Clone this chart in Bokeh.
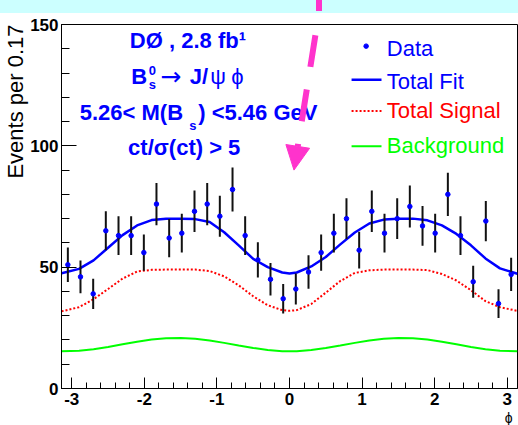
import numpy as np
from bokeh.plotting import figure
from bokeh.layouts import column
from bokeh.models import Range1d, Label, Arrow, NormalHead, FixedTicker, Title, Div
from bokeh.embed import file_html
from bokeh.resources import INLINE

# ---------------- data ----------------
phi_bins = [-3.054, -2.880, -2.705, -2.531, -2.356, -2.182, -2.007, -1.833, -1.658,
            -1.484, -1.309, -1.134, -0.960, -0.785, -0.611, -0.436, -0.262, -0.087,
            0.087, 0.262, 0.436, 0.611, 0.785, 0.960, 1.134, 1.309, 1.484, 1.658,
            1.833, 2.007, 2.182, 2.356, 2.531, 2.705, 2.880, 3.054]
events = [51, 46, 39, 65, 63, 63, 56, 76, 62, 64, 73, 76, 71, 82, 63, 53, 45, 37,
          41, 48, 56, 64, 70, 57, 73, 64, 70, 75, 67, 64, 80, 63, 44, 69, 35, 47]

curve_phi = [-3.14, -2.9, -2.7, -2.5, -2.3, -2.1, -1.9, -1.7, -1.5, -1.3, -1.1, -0.9,
             -0.7, -0.5, -0.3, -0.1, 0.0, 0.1, 0.3, 0.5, 0.7, 0.9, 1.1, 1.3, 1.5,
             1.7, 1.9, 2.1, 2.3, 2.5, 2.7, 2.9, 3.14]
fit_vals = [47.5, 49.3, 52.8, 58.0, 63.2, 67.2, 69.4, 70.0, 70.0, 69.8, 68.6, 64.4,
            59.0, 53.4, 50.0, 47.8, 47.4, 47.8, 50.3, 54.2, 59.4, 64.3, 68.0, 69.6,
            70.0, 70.0, 69.3, 67.2, 63.7, 59.0, 53.6, 49.5, 47.3]
signal_vals = [31.8, 33.5, 36.8, 41.0, 45.3, 48.2, 48.9, 49.0, 49.0, 49.0, 48.4, 46.2,
               42.5, 38.0, 34.3, 32.3, 32.0, 32.3, 34.8, 39.5, 44.3, 47.6, 48.7, 49.0,
               49.0, 49.0, 48.8, 47.2, 44.5, 40.5, 36.0, 33.5, 32.0]
bkg_vals = [15.3, 15.6, 16.2, 17.1, 18.2, 19.3, 20.2, 20.7, 20.8, 20.5, 19.8, 18.8,
            17.7, 16.7, 15.9, 15.4, 15.3, 15.4, 15.9, 16.7, 17.7, 18.8, 19.8, 20.5,
            20.8, 20.7, 20.2, 19.3, 18.2, 17.1, 16.2, 15.6, 15.3]

x_ticks = [-3, -2, -1, 0, 1, 2, 3]
x_tick_labels = ["-3", "-2", "-1", "0", "1", "2", "3"]
y_ticks = [0, 50, 100, 150]
legend_labels = ["Data", "Total Fit", "Total Signal", "Background"]

# ---------------- layout ----------------
PAGE_W, PAGE_H = 518, 425
BAND = 13                      # light cyan slide band on top
W, H = PAGE_W, PAGE_H - BAND
FL, FT, FR, FB = 60, 24 - BAND, 1, 36
frame_w = W - FL - FR
frame_h = H - FT - FB
FRAME_BOTTOM_PAGE = PAGE_H - FB
XMIN, XMAX = -np.pi, np.pi
YMIN, YMAX = 0.0, 150.0


def dx(px):  # page pixel -> data x
    return XMIN + (px - FL) / frame_w * (XMAX - XMIN)


def dy(py):  # page pixel -> data y
    return YMIN + (FRAME_BOTTOM_PAGE - py) / frame_h * (YMAX - YMIN)


BLUE = "#0000ff"
RED = "#ff0000"
GREEN = "#00ff00"
MAG = "#ff33cc"
FONT = "Liberation Sans"

p = figure(width=W, height=H, x_range=Range1d(XMIN, XMAX), y_range=Range1d(YMIN, YMAX),
           output_backend="svg", toolbar_location=None,
           min_border_left=FL, min_border_right=FR, min_border_top=FT, min_border_bottom=FB)
p.xgrid.visible = False
p.ygrid.visible = False
p.outline_line_color = "black"
p.outline_line_alpha = 1.0
p.outline_line_width = 1
p.background_fill_color = "white"
p.border_fill_color = "white"

xminor = [round(-3.0 + 0.2 * i, 2) for i in range(31)]
yminor = list(range(0, 151, 10))
p.xaxis.ticker = FixedTicker(ticks=x_ticks, minor_ticks=xminor)
p.yaxis.ticker = FixedTicker(ticks=y_ticks, minor_ticks=yminor)
p.xaxis.major_label_overrides = {t: l for t, l in zip(x_ticks, x_tick_labels)}

for ax in (p.xaxis[0], p.yaxis[0]):
    ax.major_tick_out = 0
    ax.minor_tick_out = 0
    ax.axis_line_color = "black"
    ax.major_tick_line_color = "black"
    ax.minor_tick_line_color = "black"
    ax.major_label_text_font = FONT
    ax.major_label_text_font_style = "bold"
    ax.major_label_text_font_size = "17px"
    ax.major_label_text_color = "black"
p.xaxis.major_tick_in = 11
p.xaxis.minor_tick_in = 6
p.yaxis.major_tick_in = 15
p.yaxis.minor_tick_in = 8
p.xaxis.major_label_standoff = 4
p.yaxis.major_label_standoff = 3

# axis titles (ROOT style: at the end of the axis)
p.add_layout(Title(text="Events per 0.17", align="right", text_font=FONT,
                   text_font_size="22px", text_font_style="normal", text_color="black",
                   standoff=0, offset=0), "left")
p.add_layout(Title(text="\u03d5", align="right", text_font=FONT,
                   text_font_size="14px", text_font_style="normal", text_color="black",
                   standoff=0, offset=5), "below")

# curves
p.line(curve_phi, bkg_vals, line_color=GREEN, line_width=2)
p.line(curve_phi, signal_vals, line_color=RED, line_width=2, line_dash="2 2")
p.line(curve_phi, fit_vals, line_color=BLUE, line_width=2.5)

# data with error bars
ev = np.array(events, dtype=float)
err = np.sqrt(ev)
p.segment(phi_bins, ev - err, phi_bins, ev + err, line_color="#111111", line_width=2)
p.scatter(phi_bins, events, size=4.5, color=BLUE)


def lab(text, px, py, size, color=BLUE, bold=True, align="left", font=FONT):
    p.add_layout(Label(x=dx(px), y=dy(py), text=text, text_font=font,
                       text_font_size=f"{size}px",
                       text_font_style="bold" if bold else "normal",
                       text_color=color, text_align=align, text_baseline="middle"))


# annotation text block (positions are vertical centres of the capitals)
lab("D\u00d8 , 2.8 fb\u00b9", 128.5, 40, 22)
lab("B", 130, 75.8, 22)
lab("0", 147.5, 70, 13)
lab("s", 147.5, 83.8, 13)
lab("\u2192", 159, 76.5, 25, bold=False, font="DejaVu Sans")
lab("J/", 188.5, 75.8, 22)
lab("\u03c8", 209, 75.8, 22, bold=False)
lab("\u03d5", 230, 75.8, 22, bold=False)
lab("5.26< M(B", 78.3, 112.5, 22)
lab("s", 188, 125.5, 13)
lab(") <5.46 GeV", 197, 112.5, 22)
lab("ct/\u03c3(ct) > 5", 183, 147.5, 22, align="center")

# legend
leg_colors = [BLUE, BLUE, RED, GREEN]
leg_mid = [48, 81, 110, 145]
for t, c, m in zip(legend_labels, leg_colors, leg_mid):
    lab(t, 386, m, 22, color=c, bold=False)
p.scatter([dx(365.3)], [dy(45.7)], size=4.5, color=BLUE)
p.segment([dx(350.7)], [dy(79.3)], [dx(380.7)], [dy(79.3)], line_color=BLUE, line_width=2.5)
p.segment([dx(350.7)], [dy(110.7)], [dx(380.7)], [dy(110.7)], line_color=RED,
          line_width=2, line_dash="2 2")
p.segment([dx(350.7)], [dy(146)], [dx(380.7)], [dy(146)], line_color=GREEN, line_width=2)

# magenta dashed arrow (slide overlay)
p.add_layout(Arrow(end=NormalHead(size=24, fill_color=MAG, line_color=MAG),
                   x_start=dx(317.9), y_start=dy(BAND), x_end=dx(293), y_end=dy(170),
                   line_color=MAG, line_width=6, line_dash="32 23", line_dash_offset=33))

band = Div(text='<div style="position:absolute;left:316px;top:0px;width:6px;'
                'height:11px;background:#ff33cc;"></div>',
           width=PAGE_W, height=BAND, margin=0,
           styles={"background-color": "#ccffff", "position": "relative",
                   "overflow": "hidden"})

page = column(band, p, spacing=0, margin=0)
open("out.html", "w").write(file_html(page, INLINE))
